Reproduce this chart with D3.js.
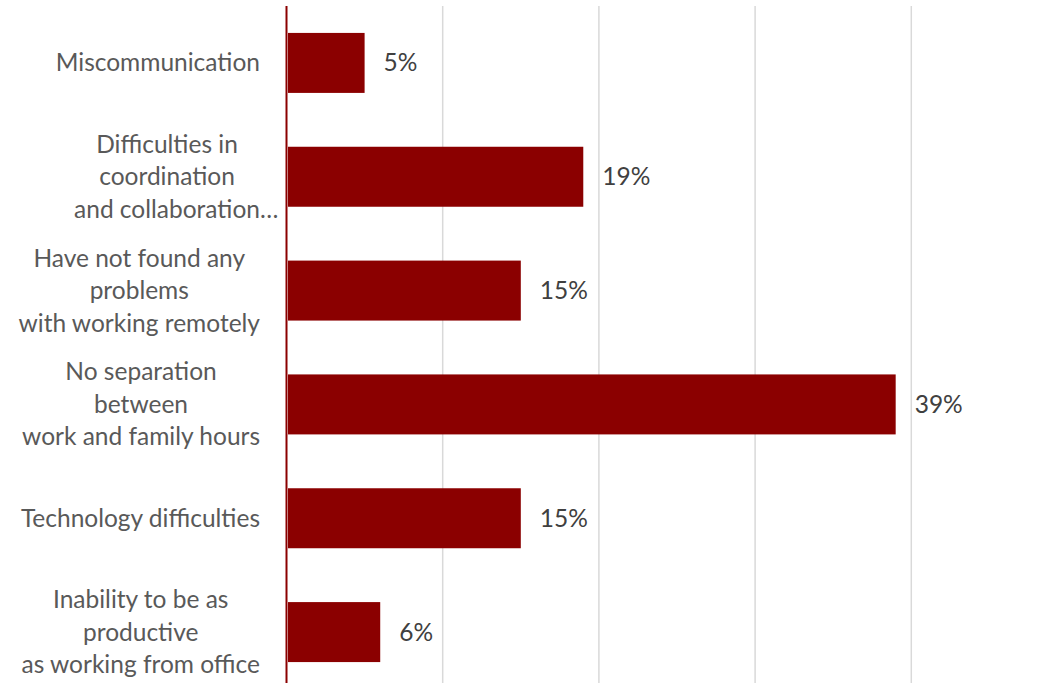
<!DOCTYPE html>
<html>
<head>
<meta charset="utf-8">
<script src="https://cdn.jsdelivr.net/npm/d3@7"></script>
<style>
  html, body { margin: 0; padding: 0; background: #fff; }
  svg { display: block; }
</style>
</head>
<body>
<svg id="chart" width="1055" height="683"></svg>
<script>
// Survey responses: problems encountered while working remotely
const categories = [
  ["Miscommunication"],
  ["Difficulties in", "coordination", "and collaboration\u2026"],
  ["Have not found any", "problems", "with working remotely"],
  ["No separation", "between", "work and family hours"],
  ["Technology difficulties"],
  ["Inability to be as", "productive", "as working from office"]
];
const shares = [0.05, 0.19, 0.15, 0.39, 0.15, 0.06];
const tickValues = [0.1, 0.2, 0.3, 0.4, 0.5];

const barColor = "#8b0000";
const textColor = "#595959";
const fontFamily = "Lato, 'Open Sans', sans-serif";
const fontSize = 24.5;
const lineGap = 32.5;

const svg = d3.select("#chart");
const width = 1055, height = 683;
const axisX = 286.5;

const x = d3.scaleLinear().domain([0, 0.5]).range([axisX, axisX + 781]);
const y = d3.scaleBand()
  .domain(d3.range(categories.length))
  .range([6, 689])
  .paddingInner(0.473)
  .paddingOuter(0.2365);

// vertical gridlines
svg.append("g")
  .selectAll("line")
  .data(tickValues)
  .join("line")
  .attr("x1", d => x(d)).attr("x2", d => x(d))
  .attr("y1", 6).attr("y2", height)
  .attr("stroke", "#d9d9d9")
  .attr("stroke-width", 1.5);

// bars
svg.append("g")
  .selectAll("rect")
  .data(shares)
  .join("rect")
  .attr("x", x(0) + 1.5)
  .attr("y", (d, i) => y(i))
  .attr("width", d => x(d) - x(0) - 1.5)
  .attr("height", y.bandwidth())
  .attr("fill", barColor);

// category axis line
svg.append("line")
  .attr("x1", axisX).attr("x2", axisX)
  .attr("y1", 6).attr("y2", height)
  .attr("stroke", barColor)
  .attr("stroke-width", 2);

// value labels
svg.append("g")
  .selectAll("text")
  .data(shares)
  .join("text")
  .attr("x", d => x(d) + 19)
  .attr("y", (d, i) => y(i) + y.bandwidth() / 2)
  .attr("dy", "0.35em")
  .attr("fill", "#404040")
  .attr("font-family", fontFamily)
  .attr("font-size", fontSize)
  .text(d => d3.format(".0%")(d));

// category labels: block right-aligned next to the axis, lines centred in
// the block; a truncated line's ellipsis hangs past the block edge
const labelRight = 260;
const labels = svg.append("g")
  .attr("font-family", fontFamily)
  .attr("font-size", fontSize)
  .attr("fill", textColor);

categories.forEach((lines, i) => {
  const cy = y(i) + y.bandwidth() / 2;
  const g = labels.append("g");
  const texts = lines.map((t, k) => g.append("text")
    .attr("y", cy + (k - (lines.length - 1) / 2) * lineGap)
    .attr("dy", "0.35em")
    .text(t));
  const widths = texts.map((t, k) => {
    const node = t.node();
    const s = lines[k];
    return s.endsWith("\u2026")
      ? node.getSubStringLength(0, s.length - 1)
      : node.getComputedTextLength();
  });
  const blockW = d3.max(widths);
  const left = labelRight - blockW;
  texts.forEach((t, k) => t.attr("x", left + (blockW - widths[k]) / 2));
});
</script>
</body>
</html>
